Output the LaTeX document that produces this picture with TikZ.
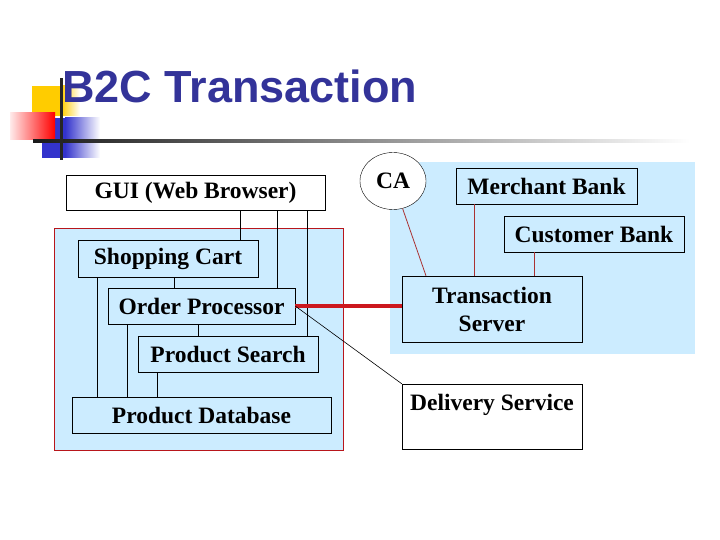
\documentclass[tikz,border=0pt]{standalone}
\usepackage{fontspec}
\setmainfont{Liberation Serif}
\newfontfamily\titlefont{Liberation Sans}
\usetikzlibrary{shapes.geometric}

\definecolor{paleblue}{RGB}{204,236,255}
\definecolor{titleblue}{RGB}{51,51,153}
\definecolor{linered}{RGB}{204,24,30}
\definecolor{thinred}{RGB}{170,50,50}
\definecolor{logoyellow}{RGB}{255,204,0}
\definecolor{logoblue}{RGB}{51,51,204}

\tikzset{
  box/.style={draw, rectangle, fill=paleblue, inner sep=0pt, align=center,
    font=\fontsize{23.5}{28}\selectfont\bfseries},
  region/.style={fill=paleblue},
  link/.style={draw=black, line width=0.8pt},
  redlink/.style={draw=thinred, line width=0.8pt}
}

\begin{document}
\begin{tikzpicture}[x=1pt,y=-1pt]
  \useasboundingbox (0,0) rectangle (720,540);

  %% logo and title rule
  \fill[logoyellow] (32,86) rectangle (62,116);
  \shade[left color=logoyellow, right color=white] (61,86) rectangle (80,116);
  \fill[logoblue] (42,118) rectangle (66,158);
  \shade[left color=logoblue, right color=white] (65,118) rectangle (100,158);
  \shade[left color=red!8, right color=red] (10,113) rectangle (55,140);
  \shade[left color=black!90, right color=white] (33,140) rectangle (690,143);
  \fill[black!85] (60,78) rectangle (63,160);

  \node[anchor=base west, inner sep=0pt, text=titleblue,
    font=\titlefont\fontsize{45}{50}\selectfont\bfseries]
    (title) at (62,103) {B2C Transaction};

  %% shaded areas
  \draw[region, draw=linered!90!black, line width=0.8pt] (54,228) rectangle (343,450);
  \fill[paleblue] (390,162) rectangle (695,354);

  %% left side
  \node[box, fill=white, minimum width=259pt, minimum height=35pt]
    (gui) at (195.5,192.5) {GUI (Web Browser)};
  \node[box, minimum width=180pt, minimum height=37pt]
    (cart) at (168,258.5) {Shopping Cart};
  \node[box, minimum width=187pt, minimum height=36pt]
    (order) at (201.5,306) {Order Processor};
  \node[box, minimum width=180pt, minimum height=36pt]
    (search) at (228,354) {Product Search};
  \node[box, minimum width=259pt, minimum height=36pt]
    (pdb) at (201.5,415) {Product Database};

  \foreach \a/\b/\x in {gui/cart/240, gui/order/277, gui/search/307,
    cart/order/174, cart/pdb/97, order/search/198, order/pdb/127, search/pdb/157}
    \draw[link] (\x,0 |- \a.south) -- (\x,0 |- \b.north);

  %% right side
  \node[box, ellipse, fill=white, minimum width=66pt, minimum height=57pt]
    (ca) at (393,181) {CA};
  \node[box, minimum width=181pt, minimum height=36pt]
    (merchant) at (546.5,186) {Merchant Bank};
  \node[box, minimum width=180pt, minimum height=36pt]
    (customer) at (594,234) {Customer Bank};
  \node[box, minimum width=180pt, minimum height=66pt]
    (server) at (492,309) {Transaction\\Server};
  \node[box, fill=white, minimum width=180pt, minimum height=65pt]
    (delivery) at (492,416.5) {Delivery Service\\\mbox{}};

  \draw[redlink] (ca) -- (426,0 |- server.north);
  \draw[redlink] (474,0 |- merchant.south) -- (474,0 |- server.north);
  \draw[redlink] (534,0 |- customer.south) -- (534,0 |- server.north);

  \draw[draw=linered, line width=3.5pt] (order.east) -- (order.east -| server.west);
  \draw[black, line width=0.6pt] (order.east) -- (delivery.north west);

\end{tikzpicture}
\end{document}
